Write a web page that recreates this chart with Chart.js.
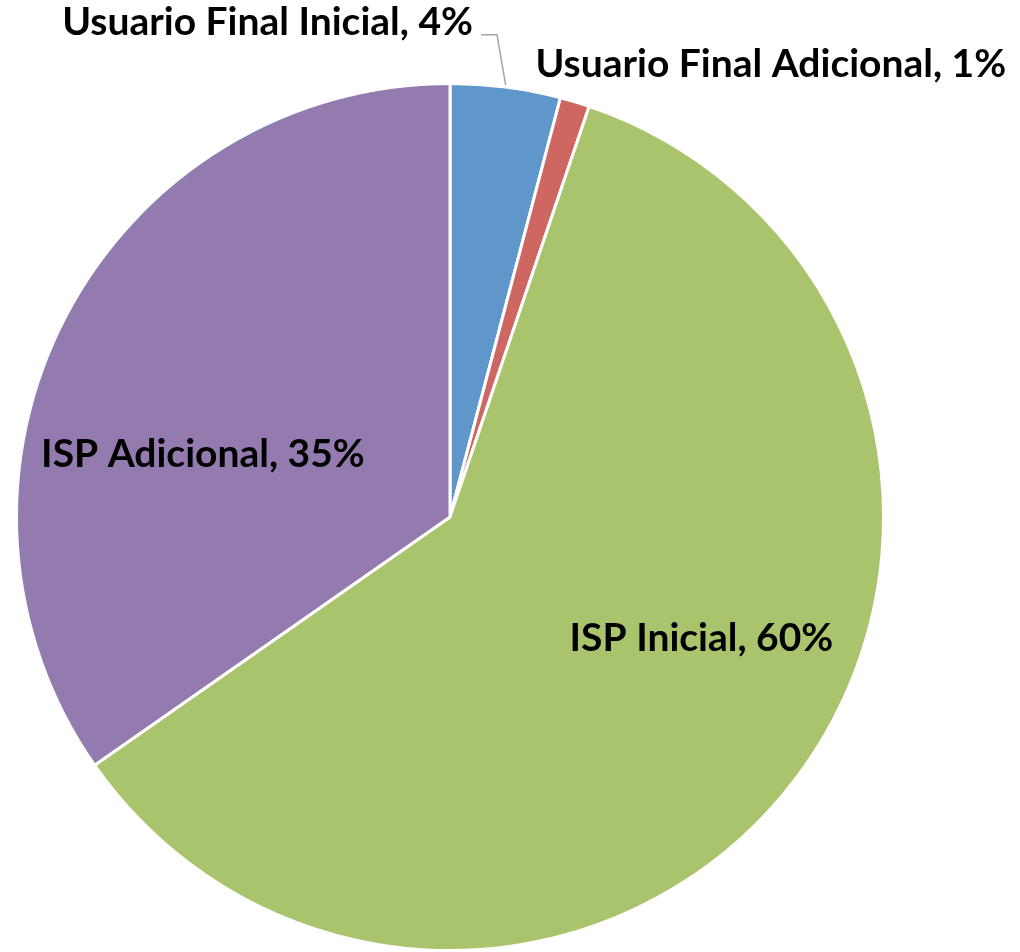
<!DOCTYPE html>
<html>
<head>
<meta charset="utf-8">
<script src="https://cdn.jsdelivr.net/npm/chart.js@4.4.1/dist/chart.umd.min.js"></script>
<style>
  html, body { margin: 0; padding: 0; background: #fff; }
  #wrap { width: 1020px; height: 952px; }
</style>
</head>
<body>
<div id="wrap"><canvas id="pieChart"></canvas></div>
<script>
// chart data
var categories = ['Usuario Final Inicial', 'Usuario Final Adicional', 'ISP Inicial', 'ISP Adicional'];
var values = [4.1, 1.1, 60.1, 34.7];
var colors = ['#6097CB', '#CE6661', '#AAC46E', '#937BB0'];

// label placement relative to pie centre, in units of the radius
var labelSpots = [
    { dx: 0.053, dy: -1.14, align: 'right', leader: true },
    { dx: 0.197, dy: -1.045, align: 'left', leader: false },
    { dx: 0.58, dy: 0.28, align: 'center', leader: false },
    { dx: -0.57, dy: -0.145, align: 'center', leader: false }
];

var total = values.reduce(function(a, b) { return a + b; }, 0);

// draw "Category, N%" labels
var pieLabels = {
    id: 'pieLabels',
    afterDatasetsDraw: function(chart) {
        var ctx = chart.ctx;
        var meta = chart.getDatasetMeta(0);
        ctx.save();
        ctx.font = 'bold 39px Lato, "Open Sans", sans-serif';
        ctx.fillStyle = '#000';
        ctx.textBaseline = 'middle';
        meta.data.forEach(function(arc, i) {
            var spot = labelSpots[i];
            var r = arc.outerRadius;
            var x = arc.x + spot.dx * r;
            var y = arc.y + spot.dy * r;
            var text = categories[i] + ', ' + Math.round(values[i] / total * 100) + '%';
            ctx.textAlign = spot.align;
            ctx.fillText(text, x, y);
            if (spot.leader) {
                var mid = (arc.startAngle + arc.endAngle) / 2;
                var ex = arc.x + Math.cos(mid) * r;
                var ey = arc.y + Math.sin(mid) * r;
                ctx.strokeStyle = '#A6A6A6';
                ctx.lineWidth = 1.5;
                ctx.beginPath();
                ctx.moveTo(x + 8, y + 12);
                ctx.lineTo(x + 24, y + 12);
                ctx.lineTo(ex, ey - 2);
                ctx.stroke();
            }
        });
        ctx.restore();
    }
};

window.onload = function() {
    var ctx = document.getElementById('pieChart').getContext('2d');
    new Chart(ctx, {
        type: 'pie',
        data: {
            labels: categories,
            datasets: [{
                data: values,
                backgroundColor: colors,
                borderColor: '#ffffff',
                borderWidth: 3
            }]
        },
        options: {
            responsive: true,
            maintainAspectRatio: false,
            animation: false,
            layout: { padding: { left: 14, right: 134, top: 82, bottom: 0 } },
            plugins: {
                legend: { display: false },
                tooltip: { enabled: false }
            }
        },
        plugins: [pieLabels]
    });
};
</script>
</body>
</html>
